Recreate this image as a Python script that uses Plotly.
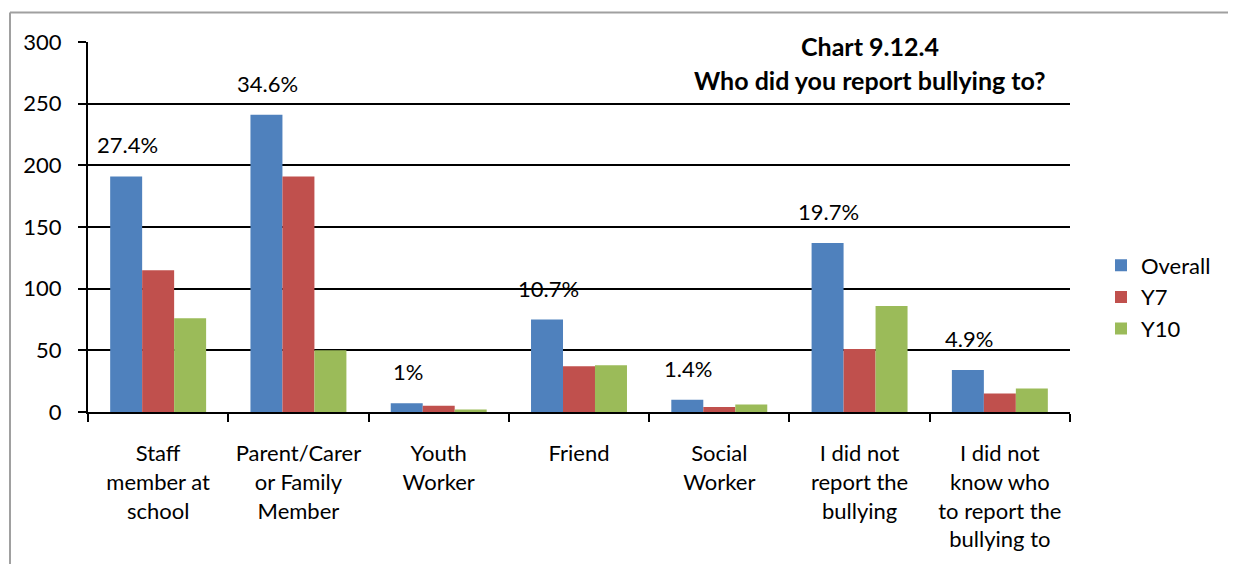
import plotly.graph_objects as go

categories = ["Staff member at school", "Parent/Carer or Family Member", "Youth Worker",
              "Friend", "Social Worker", "I did not report the bullying",
              "I did not know who to report the bullying to"]
tick_labels = ["Staff<br>member at<br>school", "Parent/Carer<br>or Family<br>Member", "Youth<br>Worker",
               "Friend", "Social<br>Worker", "I did not<br>report the<br>bullying",
               "I did not<br>know who<br>to report the<br>bullying to"]
overall = [191, 241, 7, 75, 10, 137, 34]
y7 = [115, 191, 5, 37, 4, 51, 15]
y10 = [76, 50, 2, 38, 6, 86, 19]
pct_labels = ["27.4%", "34.6%", "1%", "10.7%", "1.4%", "19.7%", "4.9%"]
y_ticks = [0, 50, 100, 150, 200, 250, 300]

FONT = "Lato"
W, H = 1236, 564
OFF = 8  # page body margin
# target plot area in screen pixels: x 88..1070, y 42..412
L = 88 - OFF
T = 42 - OFF
R = W - (1070 - OFF)
B = H - (412 - OFF)
PW, PH = W - L - R, H - T - B

def px_x(p):
    return (p - OFF - L) / PW

def px_y(p):
    return (H - B - (p - OFF)) / PH

fig = go.Figure()
series = [("Overall", overall, "#4F81BD"), ("Y7", y7, "#C0504D"), ("Y10", y10, "#9BBB59")]
for name, vals, col in series:
    fig.add_trace(go.Bar(x=categories, y=vals, name=name, marker_color=col,
                         marker_line_width=0, legendgroup=name))

for cat, v, lab in zip(categories, overall, pct_labels):
    fig.add_annotation(x=cat, y=v, text=lab, showarrow=False, xshift=-31, yshift=16,
                       yanchor="bottom", xanchor="center",
                       font=dict(family=FONT, size=22, color="black"))

fig.add_annotation(xref="paper", yref="paper", x=px_x(870), y=px_y(46), text="<b>Chart 9.12.4</b>",
                   showarrow=False, xanchor="center", yanchor="middle",
                   font=dict(family=FONT, size=25, color="black"))
fig.add_annotation(xref="paper", yref="paper", x=px_x(870), y=px_y(80),
                   text="<b>Who did you report bullying to?</b>",
                   showarrow=False, xanchor="center", yanchor="middle",
                   font=dict(family=FONT, size=25, color="black"))

# outer chart border (top and left visible)
fig.add_shape(type="line", xref="paper", yref="paper", x0=px_x(10), x1=px_x(1260),
              y0=px_y(12.5), y1=px_y(12.5), line=dict(color="#A0A0A0", width=2))
fig.add_shape(type="line", xref="paper", yref="paper", x0=px_x(10), x1=px_x(10),
              y0=px_y(12.5), y1=px_y(590), line=dict(color="#A0A0A0", width=2))

fig.update_layout(
    width=W, height=H,
    margin=dict(l=L, r=R, t=T, b=B, autoexpand=False),
    paper_bgcolor="white", plot_bgcolor="white",
    barmode="group", bargap=0.316, bargroupgap=0,
    font=dict(family=FONT, size=22, color="black"),
    legend=dict(x=px_x(1101), y=px_y(297), xanchor="left", yanchor="middle",
                font=dict(family=FONT, size=22), tracegroupgap=18, traceorder="normal"),
    showlegend=True,
)
fig.update_xaxes(tickvals=categories, ticktext=tick_labels, showline=True, linecolor="black",
                 linewidth=2, ticks="outside", tickson="boundaries", ticklen=8, tickwidth=2,
                 tickcolor="black", showgrid=False, tickangle=0, ticklabelstandoff=21,
                 tickfont=dict(family=FONT, size=22))
fig.update_yaxes(range=[0, 300], tickvals=y_ticks, showline=True, linecolor="black", linewidth=2,
                 ticks="outside", ticklen=8, tickwidth=2, tickcolor="black",
                 showgrid=True, gridcolor="black", gridwidth=2, zeroline=False,
                 ticklabelstandoff=12, tickfont=dict(family=FONT, size=22))

fig.write_html("out.html")
